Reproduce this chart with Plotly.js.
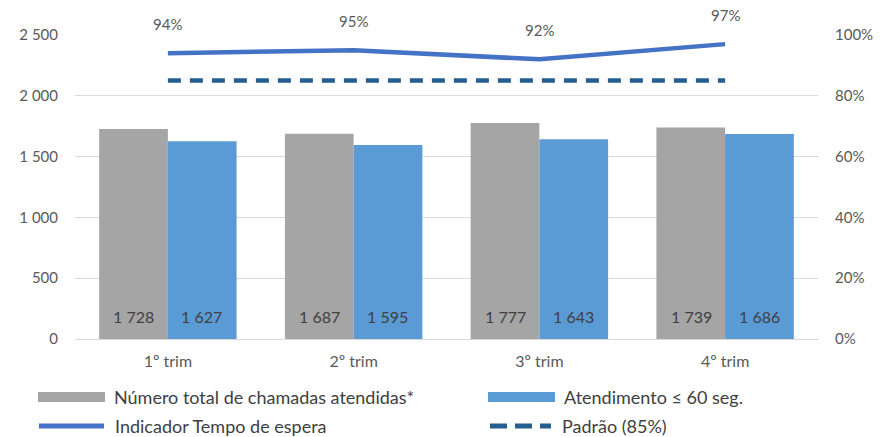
<!DOCTYPE html>
<html>
<head>
<meta charset="utf-8">
<script src="https://cdn.plot.ly/plotly-3.0.1.min.js"></script>
<style>html,body{margin:0;padding:0;background:#fff}#chart{width:881px;height:437px}</style>
</head>
<body>
<div id="chart"></div>
<script>
var categories = ['1º trim', '2º trim', '3º trim', '4º trim'];
var totalCalls = [1728, 1687, 1777, 1739];
var within60 = [1627, 1595, 1643, 1686];
var waitIndicator = [0.94, 0.95, 0.92, 0.97];
var standard = [0.85, 0.85, 0.85, 0.85];
var seriesNames = ['Número total de chamadas atendidas*', 'Atendimento ≤ 60 seg.', 'Indicador Tempo de espera', 'Padrão (85%)'];

function fmt(v) { return String(v).replace(/\B(?=(\d{3})+(?!\d))/g, ' '); }

var FONT = 'Lato, "Open Sans", sans-serif';
var TXT = '#595959';
var LBL = '#404040';
var GRAY = '#A5A5A5', BLUE = '#5B9BD5', LINE = '#4472C4', DASH = '#255E91';

// plot area in pixels (for legend placement in paper coords)
var L = 75, R = 818, T = 35, B = 339;
function px(x) { return (x - L) / (R - L); }
function py(y) { return (B - y) / (B - T); }

var traces = [
  {type: 'bar', x: categories, y: totalCalls, name: seriesNames[0], marker: {color: GRAY}, showlegend: false},
  {type: 'bar', x: categories, y: within60, name: seriesNames[1], marker: {color: BLUE}, showlegend: false},
  {type: 'scatter', mode: 'lines', x: categories, y: waitIndicator, yaxis: 'y2', name: seriesNames[2],
   line: {color: LINE, width: 4.5}, showlegend: false},
  {type: 'scatter', mode: 'lines', x: categories, y: standard, yaxis: 'y2', name: seriesNames[3],
   line: {color: DASH, width: 4.5, dash: '13px,9px'}, showlegend: false}
];

var annotations = [];
categories.forEach(function (c, i) {
  annotations.push({x: i, y: waitIndicator[i], xref: 'x', yref: 'y2', text: Math.round(waitIndicator[i] * 100) + '%',
    showarrow: false, yshift: 29, font: {size: 15, color: TXT, family: FONT}});
  annotations.push({x: i, y: 0, xref: 'x', yref: 'y', text: fmt(totalCalls[i]), showarrow: false,
    xshift: -34, yshift: 23, font: {size: 16, color: LBL, family: FONT}});
  annotations.push({x: i, y: 0, xref: 'x', yref: 'y', text: fmt(within60[i]), showarrow: false,
    xshift: 34, yshift: 23, font: {size: 16, color: LBL, family: FONT}});
});

// legend (drawn manually to match the wide legend keys)
var legendItems = [
  {name: seriesNames[0], x0: 38, x1: 105, y: 397, kind: 'rect', color: GRAY},
  {name: seriesNames[1], x0: 488, x1: 555, y: 397, kind: 'rect', color: BLUE},
  {name: seriesNames[2], x0: 37, x1: 106, y: 426, kind: 'line', color: LINE},
  {name: seriesNames[3], x0: 488, x1: 553, y: 426, kind: 'dash', color: DASH}
];
var shapes = [];
legendItems.forEach(function (it) {
  if (it.kind === 'rect') {
    shapes.push({type: 'rect', xref: 'paper', yref: 'paper', x0: px(it.x0), x1: px(it.x1),
      y0: py(it.y - 5), y1: py(it.y + 5), fillcolor: it.color, line: {width: 0}});
  } else {
    shapes.push({type: 'line', xref: 'paper', yref: 'paper', x0: px(it.x0 + 2), x1: px(it.x1 - 2),
      y0: py(it.y), y1: py(it.y), line: {color: it.color, width: 5, dash: it.kind === 'dash' ? '17px,8px' : 'solid'}});
  }
  annotations.push({xref: 'paper', yref: 'paper', x: px(it.x1 + 7), y: py(it.y), xanchor: 'left', yanchor: 'middle',
    text: it.name, showarrow: false, font: {size: 18, color: LBL, family: FONT}});
});

var layout = {
  width: 881, height: 437,
  margin: {l: L, r: 881 - R, t: T, b: 437 - B, autoexpand: false},
  paper_bgcolor: '#fff', plot_bgcolor: '#fff',
  font: {family: FONT, color: TXT, size: 15},
  separators: ', ',
  barmode: 'group', bargap: 0.26, bargroupgap: 0,
  xaxis: {type: 'category', showgrid: false, zeroline: false, showline: true, linecolor: '#D9D9D9', linewidth: 1,
    ticks: '', tickfont: {size: 16, color: TXT}, ticklabelstandoff: 8},
  yaxis: {range: [0, 2500], dtick: 500, tickformat: ',d', gridcolor: '#D9D9D9', gridwidth: 1, zeroline: false,
    ticks: '', tickfont: {size: 15, color: TXT}, ticklabelstandoff: 16},
  yaxis2: {range: [0, 1], dtick: 0.2, tickformat: '.0%', overlaying: 'y', side: 'right', showgrid: false,
    zeroline: false, ticks: '', tickfont: {size: 15, color: TXT}, ticklabelstandoff: 16},
  annotations: annotations,
  shapes: shapes,
  showlegend: false
};

Plotly.newPlot('chart', traces, layout, {displayModeBar: false, staticPlot: true});
</script>
</body>
</html>
